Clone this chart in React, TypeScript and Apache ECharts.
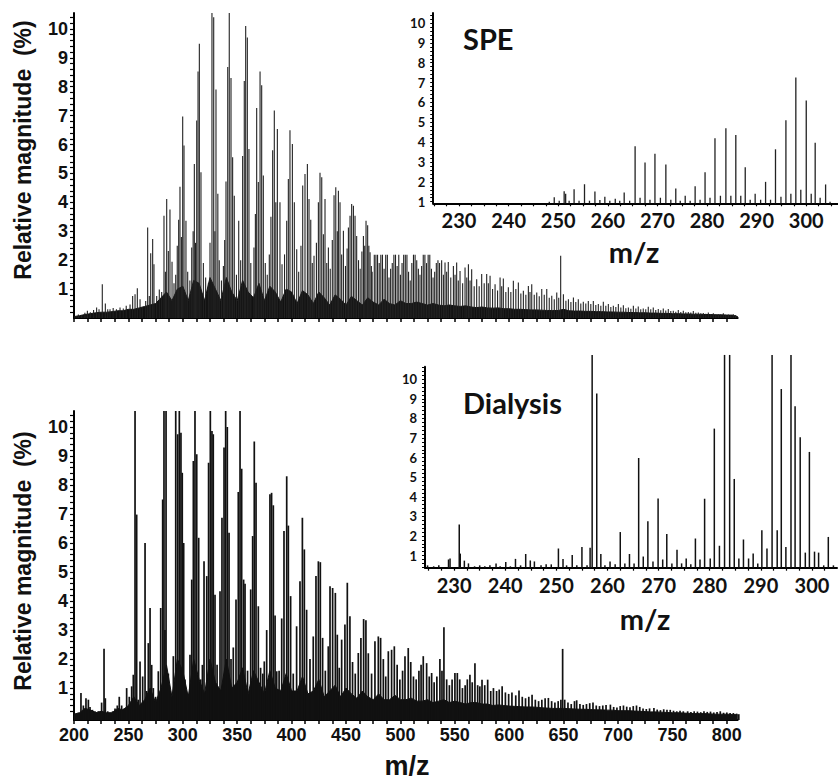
import React, { useEffect, useRef } from "react";
import * as echarts from "echarts";

// ---------- tick labels ----------
const mainYLabels = [1, 2, 3, 4, 5, 6, 7, 8, 9, 10];
const mainXLabels = [200, 250, 300, 350, 400, 450, 500, 550, 600, 650, 700, 750, 800];
const insetXLabels = [230, 240, 250, 260, 270, 280, 290, 300];
const insetYLabels = [1, 2, 3, 4, 5, 6, 7, 8, 9, 10];

// ---------- SPE full spectrum: peaks [m/z, relative magnitude %] ----------
const speMainPeaks = [
  [204, 0.12], [207, 0.1], [210, 0.18], [212.3, 0.25], [215, 0.2], [218, 0.28], [220.8, 0.36], [223, 0.3],
  [226.0, 1.17], [228.8, 0.5], [231, 0.3], [233.1, 0.3], [236, 0.35], [239, 0.3], [242.3, 0.36], [245.3, 0.33],
  [248, 0.42], [251.5, 0.47], [253.9, 0.76], [256.1, 0.82], [258.2, 1.03], [260.7, 0.65], [262.8, 0.36],
  [265.9, 0.59], [267.7, 3.13], [269.2, 0.76], [270.5, 2.24], [272.3, 2.73], [273.5, 1.86], [276.0, 0.76],
  [278.4, 0.99], [280.6, 0.9], [282.7, 3.54], [284.0, 1.6], [285.2, 4.12], [286.7, 2.32], [288.2, 3.75],
  [290.1, 1.95], [291.9, 1.2], [293.5, 1.5], [294.9, 2.5], [296.2, 3.4], [297.4, 4.54], [298.7, 2.8],
  [299.9, 6.97], [301.1, 5.97], [302.9, 3.36], [304.5, 1.6], [306.5, 1.3], [308.2, 2.44], [309.5, 3.0],
  [310.6, 5.33], [311.7, 2.6], [312.8, 6.83], [314.0, 8.53], [315.2, 9.49], [316.7, 5.04], [318.9, 1.9],
  [321, 1.4], [323.5, 1.2], [325.0, 2.6], [326.8, 10.55], [328.4, 10.4], [329.5, 3.0], [330.5, 7.9],
  [332.2, 4.3], [333.5, 2.0], [335.5, 1.3], [337.3, 1.8], [338.5, 2.7], [339.7, 4.72], [341.3, 8.68],
  [342.7, 10.55], [344.3, 8.3], [345.8, 5.56], [347.3, 4.23], [349.3, 1.5], [351.4, 3.36], [353.2, 2.0],
  [355.0, 5.6], [356.5, 8.2], [357.8, 10.1], [359.3, 9.7], [360.8, 5.85], [362.5, 1.9], [365.4, 2.44],
  [366.7, 3.6], [367.9, 7.26], [369.4, 4.7], [371.0, 8.53], [372.5, 8.05], [374.0, 4.93], [375.8, 1.9],
  [377.6, 1.5], [379.5, 2.2], [381.0, 3.5], [382.6, 5.8], [384.1, 7.18], [385.5, 4.0], [386.9, 6.54],
  [389.3, 4.0], [391.2, 1.86], [393.5, 2.2], [395.5, 3.36], [397.0, 4.81], [398.5, 6.49], [400.7, 6.02],
  [402.5, 4.0], [404.7, 2.38], [406.5, 1.6], [408.6, 2.5], [410.2, 4.58], [412.3, 4.98], [414.5, 5.33],
  [416.0, 4.12], [417.6, 3.4], [419.0, 1.9], [420.6, 2.15], [422.8, 2.6], [424.6, 4.0], [426.1, 5.02],
  [427.7, 4.87], [429.2, 2.9], [430.7, 4.12], [432.3, 1.9], [433.8, 2.44], [435.5, 1.7], [437.4, 2.7],
  [439.0, 4.25], [440.6, 4.52], [442.0, 3.0], [443.0, 4.4], [444.5, 4.0], [446.0, 2.2], [447.6, 3.02],
  [449.5, 1.8], [451.0, 2.4], [452.2, 3.13], [453.7, 3.54], [455.2, 3.94], [456.8, 3.88], [458.3, 3.54],
  [459.8, 2.84], [461.5, 2.0], [463.0, 1.7], [464.6, 2.3], [466.0, 2.84], [467.2, 2.5], [468.4, 3.36],
  [469.9, 3.21], [471.0, 2.5], [472.1, 2.27], [473.3, 1.8],
  [474, 1.6], [476, 2.19], [477.5, 2.19], [479, 2.19], [480.5, 1.9], [482, 2.19], [483.5, 2.19], [485, 1.7],
  [486.5, 2.19], [488, 2.19], [489.5, 1.4], [491, 1.7], [492.5, 1.9], [494, 2.19], [495.5, 2.19], [497, 1.8],
  [498.5, 2.19], [500, 1.5], [501.5, 1.9], [503, 2.19], [504.5, 2.19], [506, 2.19], [507.5, 1.6], [509, 1.3],
  [510.5, 1.9], [512, 2.19], [513.5, 2.19], [515, 2.0], [516.5, 1.7], [518, 1.5], [519.5, 1.8], [521, 2.19],
  [522.5, 2.19], [524, 1.9], [525.5, 2.19], [527, 2.19], [528.5, 1.7], [530, 1.4], [531.5, 1.6], [533, 1.9],
  [534.5, 2.0], [536, 1.9],
  [537.9, 2.0], [539.5, 1.5], [541, 1.92], [542.5, 1.6], [544, 1.94], [546.3, 1.4], [548.7, 1.8], [550.2, 1.5],
  [551.7, 1.92], [553.2, 1.3], [554.8, 1.63], [557.2, 1.2], [559.4, 1.75], [561, 1.4], [562.5, 1.86], [564, 1.3],
  [565.5, 1.69], [567.8, 1.1], [570.1, 1.34], [572.4, 1.1], [574.7, 1.52], [577, 1.2], [579.3, 1.52], [580.8, 1.2],
  [582.4, 1.46], [584.7, 1.0], [587, 1.17], [589.3, 0.95], [591.6, 1.4], [593.1, 1.1], [594.6, 1.37], [596.9, 0.9],
  [599.2, 1.06], [601.5, 0.9], [603.8, 1.29], [606.1, 1.0], [608.4, 1.23], [610.7, 0.85], [613, 0.94], [615.3, 0.8],
  [617.6, 1.11], [619.1, 0.9], [620.7, 1.17], [623, 0.8], [625.3, 0.88], [627.6, 0.75], [629.9, 1.0], [632.2, 0.8],
  [634.5, 1.0], [636.8, 0.7], [639.1, 0.77], [641.4, 0.65], [643.7, 0.88], [645.5, 0.7], [647.3, 2.15], [649.8, 0.82],
  [652.1, 0.6], [654.4, 0.65], [656.7, 0.55], [659, 0.71], [661.2, 0.55], [663.5, 0.65], [665.8, 0.5], [668.1, 0.56],
  [670.4, 0.5], [672.7, 0.59], [675, 0.48], [677.3, 0.59], [679.6, 0.45], [681.9, 0.48], [684.2, 0.42], [686.5, 0.56],
  [688.8, 0.42], [691.1, 0.48], [693.4, 0.38], [695.7, 0.42], [698, 0.38], [700.3, 0.48], [702.6, 0.36], [704.9, 0.44],
  [707.2, 0.34], [709.5, 0.36], [711.8, 0.32], [714.1, 0.42], [716.4, 0.33], [718.6, 0.4], [720.9, 0.3], [723.2, 0.33],
  [725.5, 0.3], [727.8, 0.39], [730.1, 0.3], [732.4, 0.36], [734.7, 0.28], [737, 0.31], [739.3, 0.27], [741.6, 0.33],
  [743.9, 0.26], [746.2, 0.31], [748.5, 0.24], [750.8, 0.25], [753.1, 0.22], [755.4, 0.28], [757.7, 0.21], [760, 0.25],
  [762.3, 0.2], [764.6, 0.21], [766.9, 0.19], [769.2, 0.24], [771.5, 0.18], [773.8, 0.19], [776.1, 0.16], [778.4, 0.17],
  [780.7, 0.15], [783, 0.19], [785.3, 0.14], [787.6, 0.16], [789.9, 0.13], [792.2, 0.13], [794.5, 0.12], [796.8, 0.16],
  [799.1, 0.11], [801.4, 0.12], [803.7, 0.1], [806, 0.13], [808, 0.1],
];
// dense unresolved background of the SPE spectrum, read every 5 m/z from 200 to 810
const speMainFloor = [
  0.05, 0.08, 0.12, 0.15, 0.18, 0.2, 0.2, 0.22, 0.25, 0.25, 0.3, 0.3, 0.35, 0.4, 0.45, 0.5, 0.7, 0.9, 0.6, 1.0,
  1.1, 0.6, 1.3, 1.2, 0.6, 1.4, 1.0, 0.6, 1.4, 0.9, 0.6, 1.3, 0.9, 0.7, 1.2, 0.6, 1.1, 0.9, 0.55, 1.0,
  0.9, 0.5, 0.95, 0.8, 0.5, 0.9, 0.7, 0.45, 0.8, 0.65, 0.45, 0.75, 0.6, 0.45, 0.7, 0.55, 0.45, 0.65, 0.5, 0.45,
  0.6, 0.5, 0.5, 0.55, 0.5, 0.45, 0.5, 0.45, 0.42, 0.45, 0.42, 0.4, 0.42, 0.38, 0.36, 0.38, 0.35, 0.34, 0.35, 0.32,
  0.32, 0.3, 0.3, 0.29, 0.28, 0.28, 0.27, 0.26, 0.26, 0.26, 0.3, 0.25, 0.24, 0.24, 0.23, 0.23, 0.22, 0.22, 0.21, 0.21,
  0.2, 0.2, 0.19, 0.19, 0.18, 0.18, 0.17, 0.17, 0.16, 0.16, 0.15, 0.15, 0.14, 0.14, 0.13, 0.13, 0.12, 0.12, 0.11, 0.11,
  0.1, 0.1, 0.05,
];

// ---------- Dialysis full spectrum ----------
const dialMainPeaks = [
  [202, 0.12], [204, 0.15], [206.4, 0.83], [208.6, 0.4], [211.0, 0.65], [213.2, 0.6], [214.7, 0.35], [217, 0.25],
  [219.3, 0.2], [222.4, 0.2], [225.4, 0.5], [227.6, 2.36], [228.8, 0.65], [231, 0.2], [233.1, 0.15], [235.5, 0.2],
  [237.7, 0.3], [239.8, 0.4], [241.6, 0.7], [243.8, 0.4], [246, 0.3], [248.4, 1.0], [250.8, 0.7], [253.0, 1.06],
  [254.5, 1.46], [256.1, 10.55], [257.6, 6.98], [259, 0.6], [260.7, 1.92], [263.1, 1.4], [265.3, 6.0], [266.8, 0.9],
  [268.3, 2.55], [269.9, 3.76], [271.4, 1.8], [272.9, 1.0], [275, 0.7], [277.5, 1.58], [279.7, 3.76], [281.5, 7.5],
  [282.7, 10.55], [283.6, 3.0], [284.6, 10.55], [286.7, 1.5], [288.5, 0.9], [291.3, 2.1], [293.5, 10.55],
  [295.3, 9.75], [296.8, 10.55], [298.3, 9.8], [299.5, 8.42], [300.8, 6.0], [302.0, 1.3], [304.3, 0.8],
  [306.6, 2.15], [308.2, 4.74], [309.7, 8.83], [311.2, 10.55], [312.8, 9.06], [314.6, 6.18], [316.4, 1.3],
  [318, 1.8], [319.5, 5.37], [322.0, 4.86], [323.7, 8.77], [325.3, 10.55], [326.8, 9.86], [328.0, 9.75],
  [329.6, 4.22], [331.5, 1.8], [334.2, 4.34], [336.0, 6.87], [337.9, 9.29], [339.4, 10.55], [340.9, 10.0],
  [342.5, 6.35], [344.3, 2.0], [346.4, 2.4], [348.9, 4.05], [351.0, 7.76], [352.6, 10.55], [354.1, 8.56],
  [355.9, 4.74], [357.2, 4.6], [359.5, 1.6], [362.4, 4.4], [364.2, 6.24], [365.7, 9.5], [367.3, 8.08],
  [369.4, 3.82], [371.5, 1.7], [373.5, 1.5], [374.9, 1.92], [377.1, 3.0], [380.1, 7.68], [381.6, 7.73],
  [383.2, 7.3], [384.8, 3.5], [386.3, 1.58], [388.5, 1.6], [390.9, 3.4], [393.0, 6.41], [395.5, 8.3], [397.0, 6.6],
  [399.1, 4.17], [401.5, 1.5], [404.6, 3.13], [407.7, 4.68], [409.9, 6.87], [411.7, 5.78], [413.8, 3.7],
  [416.9, 2.0], [419.9, 2.78], [422.4, 4.86], [424.6, 5.37], [426.4, 5.34], [428.5, 2.73], [431, 1.6],
  [433.7, 2.44], [435.3, 4.51], [437.7, 4.45], [440.2, 4.28], [442.0, 2.84], [443.8, 1.7], [446.0, 2.67],
  [449.0, 3.19], [451.2, 4.63], [453.6, 3.48], [456, 1.9], [458.5, 1.5], [461.3, 2.21], [463.7, 2.73],
  [466.2, 3.38], [468.3, 3.34], [470.5, 2.2], [473.5, 1.5], [476.6, 2.61], [479.7, 2.78], [481.8, 2.73],
  [484.3, 2.0], [486.5, 1.4], [488.9, 2.27], [491.9, 2.32], [494.4, 2.44], [497, 1.8], [499.5, 1.3], [502, 1.6],
  [504.2, 2.1], [507.2, 2.38], [509.5, 1.9], [512, 1.4], [514.5, 1.3], [517, 1.6], [519, 1.8], [521.0, 2.1],
  [524.1, 1.86], [526.5, 1.4], [528.7, 1.52], [531, 1.2], [533.5, 1.4], [536.3, 2.0], [538.2, 1.6], [540.0, 3.1],
  [542.5, 1.3], [545, 1.1], [547.5, 1.3], [550.1, 1.52], [552.3, 1.52], [554.5, 1.3], [557, 1.0], [559.5, 1.1],
  [561.5, 1.3], [563.9, 1.46], [566, 1.2], [568.5, 1.86], [571, 1.1], [573, 1.06], [575, 1.29], [577.5, 1.1],
  [580.2, 1.29], [583, 0.9], [585.5, 1.0], [588.4, 0.9], [590.8, 0.95], [593.5, 1.06], [596.5, 0.85], [599.5, 0.8],
  [602.5, 0.85], [606, 0.75], [609, 0.92], [612, 0.7], [615, 0.65], [618, 0.7], [621, 0.77], [624, 0.6], [627, 0.55],
  [630, 0.6], [633, 0.65], [636, 0.66], [639, 0.55], [642, 0.5], [645, 0.55], [647.5, 0.6], [649.1, 2.35], [651, 0.6],
  [654, 0.5], [657, 0.45], [660, 0.55], [662, 0.58], [665, 0.45], [668, 0.42], [671, 0.45], [674, 0.48], [677, 0.5],
  [680, 0.4], [683, 0.38], [686, 0.4], [689, 0.42], [693, 0.43], [696, 0.35], [699, 0.33], [702, 0.38], [705, 0.4],
  [708, 0.36], [711, 0.34], [714, 0.38], [717, 0.4], [720, 0.35], [723, 0.3], [726, 0.28], [729, 0.3], [733, 0.31],
  [736, 0.26], [739, 0.24], [742, 0.27], [745, 0.25], [748, 0.25], [751, 0.22], [754, 0.2], [757, 0.22], [760, 0.2],
  [764, 0.2], [767, 0.18], [770, 0.2], [773, 0.19], [776, 0.17], [779, 0.2], [782, 0.18], [785, 0.19], [788, 0.16],
  [791, 0.18], [794, 0.2], [797, 0.15], [800, 0.16], [803, 0.14], [806, 0.14], [809, 0.12], [811, 0.1],
];
const dialMainFloor = [
  0.1, 0.15, 0.3, 0.25, 0.15, 0.2, 0.15, 0.15, 0.3, 0.25, 0.4, 0.7, 0.4, 0.6, 1.0, 0.5, 1.0, 1.8, 0.7, 2.0,
  1.6, 0.7, 2.0, 1.3, 0.8, 2.0, 1.2, 0.9, 2.0, 1.0, 1.2, 1.7, 0.8, 1.6, 1.2, 0.8, 1.6, 1.0, 0.9, 1.5,
  0.9, 0.9, 1.4, 0.8, 0.9, 1.3, 0.7, 0.9, 1.1, 0.7, 1.0, 0.8, 0.65, 0.9, 0.7, 0.6, 0.8, 0.6, 0.6, 0.75,
  0.6, 0.6, 0.65, 0.55, 0.55, 0.6, 0.5, 0.55, 0.6, 0.5, 0.55, 0.5, 0.45, 0.5, 0.5, 0.45, 0.45, 0.4, 0.42, 0.4,
  0.38, 0.37, 0.36, 0.35, 0.35, 0.34, 0.32, 0.31, 0.3, 0.3, 0.3, 0.29, 0.28, 0.27, 0.27, 0.26, 0.25, 0.25, 0.24, 0.24,
  0.22, 0.22, 0.22, 0.21, 0.2, 0.19, 0.18, 0.18, 0.17, 0.16, 0.15, 0.15, 0.14, 0.13, 0.12, 0.12, 0.12, 0.11, 0.1, 0.1,
  0.1, 0.09, 0.08,
];

// ---------- insets (zoom 224-306) ----------
const speInsetPeaks = [
  [248.2, 1.0], [249.2, 1.23], [250.2, 1.05], [251.2, 1.53], [251.5, 1.4], [252.2, 1.05], [253.2, 1.63], [254.2, 1.05],
  [255.3, 1.88], [256.3, 1.05], [257.4, 1.52], [258.4, 1.08], [259.4, 1.25], [260.4, 1.05], [261.5, 1.15], [262.4, 1.05],
  [263.3, 1.47], [264.4, 1.05], [265.5, 3.79], [266.5, 1.2], [267.5, 2.98], [268.5, 1.1], [269.5, 3.42], [270.6, 1.2],
  [271.7, 2.88], [272.7, 1.1], [273.7, 1.67], [274.6, 1.05], [275.6, 1.3], [276.6, 1.05], [277.6, 1.78], [278.6, 1.1],
  [279.6, 2.49], [280.6, 1.2], [281.6, 4.2], [282.7, 1.3], [283.8, 4.7], [284.8, 1.3], [285.8, 4.36], [286.8, 1.3],
  [287.7, 2.74], [288.7, 1.1], [289.7, 1.4], [290.8, 1.1], [291.8, 2.0], [292.8, 1.1], [293.8, 3.64], [294.9, 1.25],
  [295.9, 5.1], [296.9, 1.4], [297.9, 7.26], [298.9, 1.6], [300.0, 6.1], [301.0, 1.4], [301.8, 3.97], [302.8, 1.2],
  [303.9, 1.87], [304.8, 1.0],
];
const dialInsetPeaks = [
  [224.8, 0.5], [226, 0.45], [227, 0.5], [228.9, 0.8], [229.2, 0.85], [231.0, 2.58], [231.2, 1.1], [232.0, 0.74],
  [232.8, 0.6], [234, 0.45], [235, 0.5], [236, 0.45], [237, 0.5], [238.2, 0.6], [239, 0.45], [240.1, 0.67], [241, 0.45],
  [242.0, 0.83], [243, 0.5], [244.0, 1.08], [244.9, 0.75], [245.7, 0.7], [247, 0.5], [248, 0.55], [249, 0.55],
  [250.4, 1.36], [251.3, 0.83], [252, 0.5], [253.1, 1.03], [254, 0.5], [255.0, 1.44], [256.0, 0.5], [256.6, 1.4],
  [257.0, 11.24], [257.9, 9.27], [258.7, 1.08], [259.5, 0.5], [260.5, 0.7], [261.5, 0.55], [262.5, 2.2], [263.4, 0.6],
  [264.3, 1.08], [265.2, 0.6], [266.1, 5.98], [267.0, 0.95], [267.9, 2.75], [268.9, 0.7], [269.9, 3.91], [270.8, 0.8],
  [271.6, 2.1], [272.6, 0.6], [273.6, 1.3], [274.5, 0.6], [275.4, 0.85], [276.3, 0.55], [277.2, 1.87], [278.1, 0.8],
  [279.0, 3.9], [280.1, 0.85], [280.9, 7.48], [281.9, 1.5], [282.9, 11.24], [283.9, 11.24], [284.8, 4.91],
  [285.7, 0.85], [286.6, 1.82], [287.6, 0.85], [288.5, 1.1], [289.4, 0.6], [290.2, 2.29], [291.2, 1.36],
  [292.2, 11.24], [293.2, 2.29], [294.0, 9.5], [294.9, 1.44], [295.9, 11.24], [296.7, 8.62], [297.7, 7.04],
  [298.7, 1.15], [299.5, 6.29], [300.5, 1.2], [301.3, 1.15], [302.3, 0.5], [303.2, 1.95], [304.2, 0.5],
];

const FLOOR_START = 200;
const FLOOR_STEP = 5;

const range = (a: number, b: number, s: number) => {
  const out: number[] = [];
  for (let i = 0; a + i * s <= b + 1e-9; i++) out.push(Math.round((a + i * s) * 100) / 100);
  return out;
};

const MAIN_FONT = '"Liberation Sans", Arial, sans-serif';
const INSET_FONT = 'Lato, "Open Sans", sans-serif';

const stick = (base: number, color: string, w: number) => (params: any, api: any) => {
  const x = api.value(0);
  const h = api.value(1);
  const a = api.coord([x, base]);
  const b = api.coord([x, h]);
  return {
    type: "line",
    shape: { x1: a[0], y1: a[1], x2: b[0], y2: b[1] },
    style: { stroke: color, lineWidth: w },
    silent: true,
  };
};

export default function App() {
  const ref = useRef<HTMLDivElement>(null);

  useEffect(() => {
    if (!ref.current) return;
    const chart = echarts.init(ref.current, undefined, { renderer: "svg" });

    const floorPairs = (vals: number[]) => vals.map((v, i) => [FLOOR_START + i * FLOOR_STEP, v]);

    const axisLineStyle = { color: "#000", width: 2 };
    const mainYTicks = range(0.2, 10.4, 0.2);
    const insetTopYTicks = range(1.0, 10.4, 0.2);
    const insetBotYTicks = range(0.4, 10.6, 0.2);
    const mainXTicks = range(200, 800, 12.5);
    const insetXTicks = range(225, 305, 2.5);

    const mainX = (gridIndex: number, showLabels: boolean) => ({
      type: "value",
      gridIndex,
      min: 200,
      max: 810,
      axisLine: { show: true, onZero: false, lineStyle: axisLineStyle },
      axisTick: { show: true, customValues: mainXTicks, length: 4, lineStyle: { color: "#000", width: 1.5 } },
      axisLabel: {
        show: showLabels,
        customValues: mainXLabels,
        margin: 6,
        fontFamily: MAIN_FONT,
        fontWeight: "bold",
        fontSize: 18,
        color: "#111",
      },
      splitLine: { show: false },
    });
    const mainY = (gridIndex: number, min: number) => ({
      type: "value",
      gridIndex,
      min,
      max: 10.55,
      axisLine: { show: true, onZero: false, lineStyle: axisLineStyle },
      axisTick: { show: true, customValues: mainYTicks, length: 4, lineStyle: { color: "#000", width: 1.2 } },
      axisLabel: {
        show: true,
        customValues: mainYLabels,
        margin: 6,
        fontFamily: MAIN_FONT,
        fontWeight: "bold",
        fontSize: 18,
        color: "#111",
      },
      splitLine: { show: false },
    });
    const insetX = (gridIndex: number, min: number, max: number) => ({
      type: "value",
      gridIndex,
      min,
      max,
      axisLine: { show: true, onZero: false, lineStyle: axisLineStyle },
      axisTick: { show: true, customValues: insetXTicks, length: 3, lineStyle: { color: "#000", width: 1.2 } },
      axisLabel: {
        show: true,
        customValues: insetXLabels,
        margin: 7,
        fontFamily: INSET_FONT,
        fontWeight: "bold",
        fontSize: 20,
        color: "#111",
      },
      splitLine: { show: false },
    });
    const insetY = (gridIndex: number, min: number, max: number, ticks: number[]) => ({
      type: "value",
      gridIndex,
      min,
      max,
      axisLine: { show: true, onZero: false, lineStyle: axisLineStyle },
      axisTick: { show: true, customValues: ticks, length: 3, lineStyle: { color: "#000", width: 1 } },
      axisLabel: {
        show: true,
        customValues: insetYLabels,
        margin: 8,
        fontFamily: INSET_FONT,
        fontWeight: "bold",
        fontSize: 13,
        color: "#111",
      },
      splitLine: { show: false },
    });

    const txt = (text: string, x: number, y: number, font: string, extra: any = {}) => ({
      type: "text",
      x,
      y,
      z: 100,
      rotation: extra.rotation || 0,
      style: {
        text,
        font,
        fill: "#111",
        textAlign: extra.align || "center",
        align: extra.align || "center",
        textVerticalAlign: "middle",
        verticalAlign: "middle",
      },
    });

    chart.setOption({
      animation: false,
      backgroundColor: "#fff",
      grid: [
        { left: 74, top: 13, width: 663.7, height: 305 },
        { left: 74, top: 411, width: 663.7, height: 309 },
        { left: 433.2, top: 13.1, width: 404.8, height: 190.2 },
        { left: 425, top: 366.7, width: 412, height: 201 },
      ],
      xAxis: [mainX(0, false), mainX(1, true), insetX(2, 224.8, 306.4), insetX(3, 224.3, 304.9)],
      yAxis: [mainY(0, 0), mainY(1, -0.1), insetY(2, 0.92, 10.5, insetTopYTicks), insetY(3, 0.38, 10.64, insetBotYTicks)],
      series: [
        {
          type: "line",
          xAxisIndex: 0,
          yAxisIndex: 0,
          data: floorPairs(speMainFloor),
          symbol: "none",
          lineStyle: { color: "#111", width: 1 },
          areaStyle: { color: "#111", opacity: 1, origin: "start" },
          z: 2,
          silent: true,
        },
        {
          type: "custom",
          xAxisIndex: 0,
          yAxisIndex: 0,
          data: speMainPeaks,
          encode: { x: 0, y: 1 },
          renderItem: stick(0, "#222", 1.1),
          clip: false,
          z: 3,
          silent: true,
        },
        {
          type: "line",
          xAxisIndex: 1,
          yAxisIndex: 1,
          data: floorPairs(dialMainFloor),
          symbol: "none",
          lineStyle: { color: "#111", width: 1 },
          areaStyle: { color: "#111", opacity: 1, origin: "start" },
          z: 2,
          silent: true,
        },
        {
          type: "custom",
          xAxisIndex: 1,
          yAxisIndex: 1,
          data: dialMainPeaks,
          encode: { x: 0, y: 1 },
          renderItem: stick(-0.1, "#111", 1.7),
          clip: false,
          z: 3,
          silent: true,
        },
        {
          type: "custom",
          xAxisIndex: 2,
          yAxisIndex: 2,
          data: speInsetPeaks,
          encode: { x: 0, y: 1 },
          renderItem: stick(0.92, "#222", 1.3),
          clip: false,
          z: 3,
          silent: true,
        },
        {
          type: "custom",
          xAxisIndex: 3,
          yAxisIndex: 3,
          data: dialInsetPeaks,
          encode: { x: 0, y: 1 },
          renderItem: stick(0.38, "#111", 1.5),
          clip: false,
          z: 3,
          silent: true,
        },
      ],
      graphic: [
        txt("Relative magnitude  (%)", 23, 150, `bold 23px ${MAIN_FONT}`, { rotation: Math.PI / 2 }),
        txt("Relative magnitude  (%)", 23, 561, `bold 23px ${MAIN_FONT}`, { rotation: Math.PI / 2 }),
        txt("m/z", 407, 766, `bold 27px ${MAIN_FONT}`),
        txt("m/z", 634, 251, `bold 29px ${INSET_FONT}`),
        txt("m/z", 645, 618, `bold 29px ${INSET_FONT}`),
        txt("SPE", 463, 38, `bold 29px ${INSET_FONT}`, { align: "left" }),
        txt("Dialysis", 463, 402, `bold 29px ${INSET_FONT}`, { align: "left" }),
      ],
    });

    return () => chart.dispose();
  }, []);

  return (
    <div
      ref={ref}
      style={{ position: "fixed", left: 0, top: 0, width: 838, height: 780, background: "#fff" }}
    />
  );
}
